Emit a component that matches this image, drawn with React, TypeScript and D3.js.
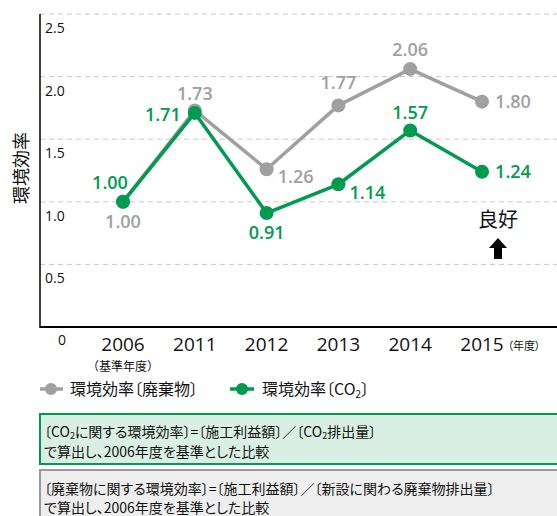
import React from "react";
import * as d3 from "d3";

const years = ["2006", "2011", "2012", "2013", "2014", "2015"];
const wasteValues = [1.0, 1.73, 1.26, 1.77, 2.06, 1.8];
const co2Values = [1.0, 1.71, 0.91, 1.14, 1.57, 1.24];
const yTicks = [0.5, 1.0, 1.5, 2.0, 2.5];
// label offsets relative to points [dx, dy]
const wasteLabelPos: [number, number][] = [
  [0, 20], [0, -17], [29, 7], [0, -23], [0, -19], [31, 0],
];
const co2LabelPos: [number, number][] = [
  [-13, -19], [-32, 2], [0, 20], [29, 8], [0, -18], [31, 0],
];

const GRAY = "#a0a0a0";
const GREEN = "#009a50";
const FONT = "'Noto Sans CJK JP', 'Noto Sans', sans-serif";
const NUM = "'Open Sans', 'Noto Sans', sans-serif";

export default function App() {
  const W = 557, H = 516;
  const x = d3.scalePoint<string>().domain(years).range([123, 482]);
  const y = d3.scaleLinear().domain([0, 2.5]).range([327, 14]);
  const line = d3.line<number>().x((_, i) => x(years[i])!).y((d) => y(d));
  const palt = { fontFeatureSettings: "'palt'" } as React.CSSProperties;

  return (
    <svg width={W} height={H} style={{ position: "absolute", left: 0, top: 0, fontFamily: FONT }}>
      {yTicks.map((t) => (
        <g key={t}>
          <line x1={40} x2={W} y1={y(t)} y2={y(t)} stroke="#c8c8c8" strokeWidth={1} strokeDasharray="5,4" />
          <text x={45} y={y(t) + 19} fontSize={14} fill="#111" fontFamily={NUM} fontWeight={400}>{t.toFixed(1)}</text>
        </g>
      ))}
      <line x1={40} x2={40} y1={14} y2={328} stroke="#000" strokeWidth={1.5} />
      <line x1={40} x2={W} y1={327} y2={327} stroke="#000" strokeWidth={2} />
      <text x={62} y={345} fontSize={14} textAnchor="middle" fill="#111" fontFamily={NUM} fontWeight={400}>0</text>
      {years.map((yr) => (
        <text key={yr} x={x(yr)} y={351} fontSize={19} textAnchor="middle" fill="#111" fontFamily={NUM} fontWeight={400}>{yr}</text>
      ))}
      <text x={x("2006")} y={371} fontSize={12} textAnchor="middle" fill="#111">（基準年度）</text>
      <text x={524} y={350} fontSize={11} textAnchor="middle" fill="#111" style={palt}>（年度）</text>
      <text transform="translate(28,168) rotate(-90)" fontSize={18} textAnchor="middle" fill="#111">環境効率</text>

      <path d={line(wasteValues)!} fill="none" stroke={GRAY} strokeWidth={3.5} strokeLinejoin="round" />
      {wasteValues.map((v, i) => (
        <circle key={i} cx={x(years[i])} cy={y(v)} r={7} fill={GRAY} />
      ))}
      <path d={line(co2Values)!} fill="none" stroke={GREEN} strokeWidth={3.5} strokeLinejoin="round" />
      {co2Values.map((v, i) => (
        <circle key={i} cx={x(years[i])} cy={y(v)} r={7} fill={GREEN} />
      ))}
      {wasteValues.map((v, i) => (
        <text key={"wl" + i} x={x(years[i])! + wasteLabelPos[i][0]} y={y(v) + wasteLabelPos[i][1]} dy="0.35em"
          fontSize={18} fontWeight={600} fill={GRAY} textAnchor="middle" fontFamily={NUM}>{v.toFixed(2)}</text>
      ))}
      {co2Values.map((v, i) => (
        <text key={"cl" + i} x={x(years[i])! + co2LabelPos[i][0]} y={y(v) + co2LabelPos[i][1]} dy="0.35em"
          fontSize={18} fontWeight={600} fill={GREEN} textAnchor="middle" fontFamily={NUM}>{v.toFixed(2)}</text>
      ))}

      <text x={498} y={227} fontSize={20} textAnchor="middle" fill="#111">良好</text>
      <path d="M498,238 L507,248 L502,248 L502,259 L494,259 L494,248 L489,248 Z" fill="#000" />

      <line x1={40} x2={63} y1={389} y2={389} stroke={GRAY} strokeWidth={3.5} />
      <circle cx={51} cy={389} r={6} fill={GRAY} />
      <text x={70} y={389} dy="0.35em" fontSize={16} fill="#111" style={palt}>環境効率〔廃棄物〕</text>
      <line x1={230} x2={254} y1={389} y2={389} stroke={GREEN} strokeWidth={3.5} />
      <circle cx={242} cy={389} r={6} fill={GREEN} />
      <text x={262} y={389} dy="0.35em" fontSize={16} fill="#111" style={palt}>環境効率〔CO<tspan fontSize={10} dy="3">2</tspan><tspan dy="-3">〕</tspan></text>

      <rect x={40} y={414} width={530} height={50} fill="#daefe3" stroke={GREEN} strokeWidth={2} />
      <text x={44} y={432} dy="0.35em" fontSize={14} fill="#111" style={palt}>〔CO<tspan fontSize={9} dy="2">2</tspan><tspan dy="-2">に関する環境効率〕=〔施工利益額〕／〔CO</tspan><tspan fontSize={9} dy="2">2</tspan><tspan dy="-2">排出量〕</tspan></text>
      <text x={44} y={452} dy="0.35em" fontSize={14} fill="#111" style={palt}>で算出し、2006年度を基準とした比較</text>

      <rect x={40} y={470} width={530} height={60} fill="#eeeeee" stroke="#9a9a9a" strokeWidth={2} />
      <text x={44} y={489} dy="0.35em" fontSize={14} fill="#111" style={palt}>〔廃棄物に関する環境効率〕=〔施工利益額〕／〔新設に関わる廃棄物排出量〕</text>
      <text x={44} y={508} dy="0.35em" fontSize={14} fill="#111" style={palt}>で算出し、2006年度を基準とした比較</text>
    </svg>
  );
}
